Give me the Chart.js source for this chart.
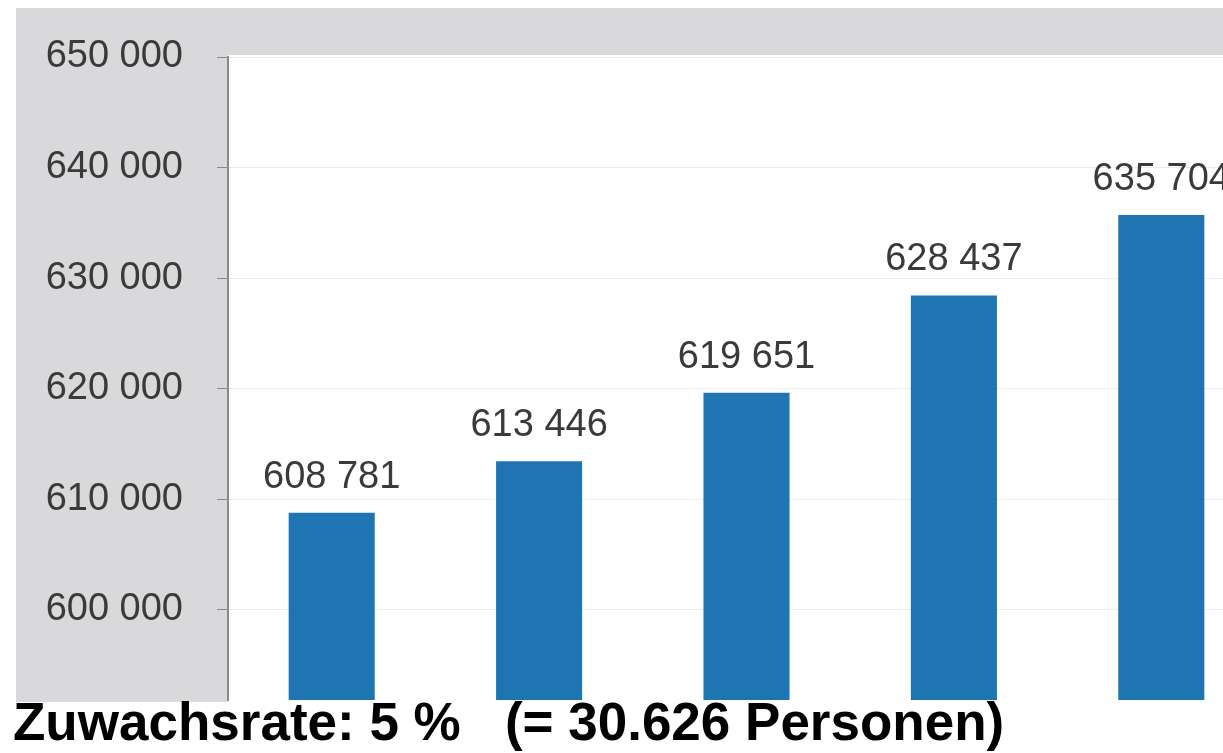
<!DOCTYPE html>
<html>
<head>
<meta charset="utf-8">
<script src="https://cdn.jsdelivr.net/npm/chart.js@4"></script>
<style>
  html, body { margin: 0; padding: 0; background: #fff; overflow: hidden; width: 1223px; height: 753px; }
  #wrap { position: absolute; left: 16px; top: 8px; }
  #note {
    position: absolute; left: 13px; top: 692px;
    font: bold 53px 'Liberation Sans', Arial, sans-serif; color: #000;
    white-space: pre; line-height: 60px;
  }
</style>
</head>
<body>
<div id="wrap"><canvas id="c" width="1249" height="694"></canvas></div>
<div id="note">Zuwachsrate: 5 %   (= 30.626 Personen)</div>
<script>
const categories = ['1', '2', '3', '4', '5'];
const values = [608781, 613446, 619651, 628437, 635704];
const yTicks = [600000, 610000, 620000, 630000, 640000, 650000];

const colors = {
    bar: '#1f75b2',
    panel: '#d9d9dc',
    text: '#3a3a3a',
    axis: '#8a8a8a',
    grid: '#ececec'
};

function fmt(v) {
    return String(v).replace(/\B(?=(\d{3})+(?!\d))/g, ' ');
}

const bgPlugin = {
    id: 'bg',
    beforeDraw(chart) {
        const ctx = chart.ctx, a = chart.chartArea;
        ctx.save();
        ctx.fillStyle = colors.panel;
        ctx.fillRect(0, 0, chart.width, chart.height);
        ctx.fillStyle = '#ffffff';
        ctx.fillRect(a.left, a.top - 2, chart.width - a.left, chart.height - a.top + 2);
        ctx.restore();
    }
};

const labelPlugin = {
    id: 'valueLabels',
    afterDatasetsDraw(chart) {
        const ctx = chart.ctx;
        const meta = chart.getDatasetMeta(0);
        ctx.save();
        ctx.font = "38px 'Liberation Sans', Arial, sans-serif";
        ctx.fillStyle = colors.text;
        ctx.textAlign = 'center';
        ctx.textBaseline = 'alphabetic';
        meta.data.forEach((bar, i) => {
            ctx.fillText(fmt(values[i]), bar.x, bar.y - 25);
        });
        ctx.restore();
    }
};

new Chart(document.getElementById('c').getContext('2d'), {
    type: 'bar',
    data: {
        labels: categories,
        datasets: [{
            data: values,
            backgroundColor: colors.bar,
            borderWidth: 0,
            categoryPercentage: 1,
            barPercentage: 0.415
        }]
    },
    options: {
        responsive: false,
        devicePixelRatio: 1,
        animation: false,
        layout: { padding: { top: 49, bottom: 2, left: 0, right: 0 } },
        scales: {
            x: { display: false },
            y: {
                min: 591860,
                max: 650000,
                afterBuildTicks: scale => { scale.ticks = yTicks.map(v => ({ value: v })); },
                afterFit: scale => {
                    scale.width = 212;
                    scale.paddingTop = 0;
                    scale.paddingBottom = 0;
                },
                border: { color: colors.axis, width: 2 },
                grid: { color: colors.grid, tickColor: colors.axis, tickLength: 11, lineWidth: 1 },
                ticks: {
                    padding: 34,
                    color: colors.text,
                    font: { family: "'Liberation Sans', Arial, sans-serif", size: 38 },
                    callback: v => fmt(v)
                }
            }
        },
        plugins: {
            legend: { display: false },
            tooltip: { enabled: false }
        }
    },
    plugins: [bgPlugin, labelPlugin]
});
</script>
</body>
</html>
